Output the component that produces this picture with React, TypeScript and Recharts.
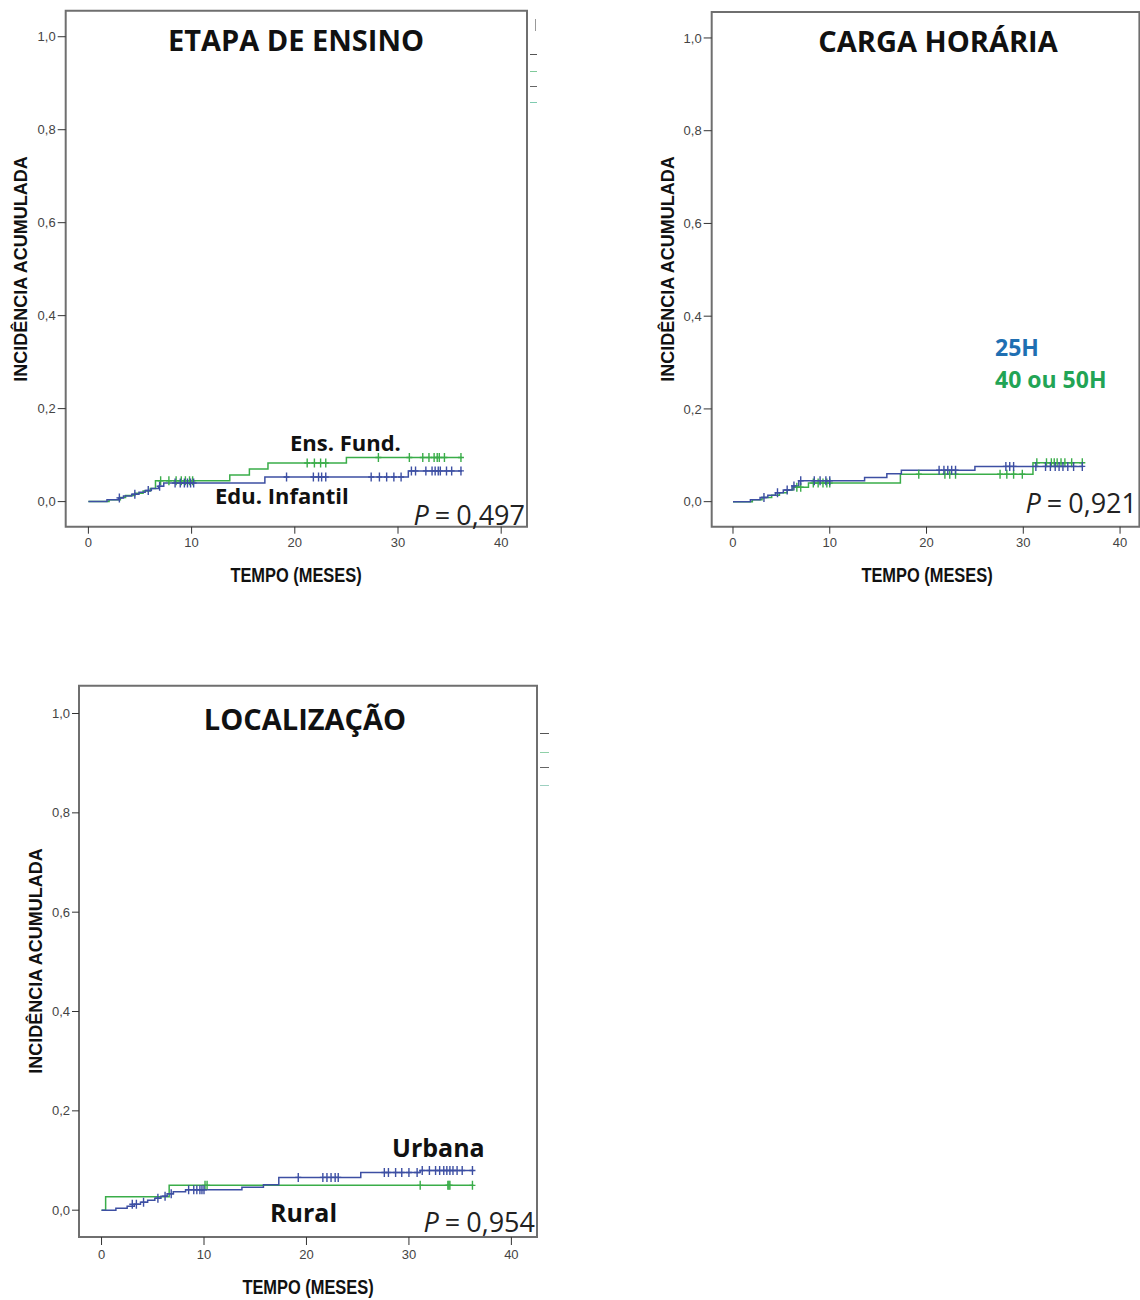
import React from "react";
import { ComposedChart, Line, ReferenceArea, Scatter, XAxis, YAxis } from "recharts";

// axis ticks shared by the three panels
const xTicks = [0, 10, 20, 30, 40];
const yTicks = [0, 0.2, 0.4, 0.6, 0.8, 1.0];

// ETAPA DE ENSINO: [months, cumulative incidence]
const eduInfantilSteps = [
  [0, 0], [1.8, 0.004], [2.9, 0.008], [3.4, 0.012], [4.2, 0.016], [4.9, 0.02], [5.5, 0.024],
  [6.1, 0.028], [6.8, 0.033], [7.3, 0.04], [17.1, 0.053], [31.0, 0.066], [36.2, 0.066]
];
const eduInfantilCensored = [
  [3.0, 0.008], [4.5, 0.016], [5.8, 0.024], [6.9, 0.033], [8.4, 0.04], [8.9, 0.04], [9.3, 0.04],
  [9.6, 0.04], [9.9, 0.04], [10.2, 0.04], [19.2, 0.053], [21.8, 0.053], [22.3, 0.053], [22.6, 0.053],
  [23.0, 0.053], [27.4, 0.053], [28.2, 0.053], [28.9, 0.053], [29.6, 0.053], [30.3, 0.053],
  [31.3, 0.066], [31.7, 0.066], [32.7, 0.066], [33.3, 0.066], [33.6, 0.066], [33.9, 0.066],
  [34.1, 0.066], [34.7, 0.066], [35.2, 0.066], [36.1, 0.066]
];
const ensFundSteps = [
  [0, 0], [2.0, 0.004], [3.1, 0.009], [3.6, 0.013], [4.5, 0.018], [5.3, 0.023], [6.0, 0.028],
  [6.5, 0.045], [13.7, 0.057], [15.6, 0.07], [17.4, 0.083], [25.0, 0.095], [36.2, 0.095]
];
const ensFundCensored = [
  [7.0, 0.045], [7.8, 0.045], [8.5, 0.045], [9.0, 0.045], [9.4, 0.045], [9.8, 0.045], [10.1, 0.045],
  [21.2, 0.083], [21.9, 0.083], [22.5, 0.083], [23.0, 0.083], [28.1, 0.095], [31.1, 0.095],
  [32.4, 0.095], [33.0, 0.095], [33.5, 0.095], [33.8, 0.095], [34.0, 0.095], [34.5, 0.095], [36.1, 0.095]
];

// CARGA HORÁRIA
const h25Steps = [
  [0, 0], [1.8, 0.004], [2.8, 0.009], [3.6, 0.014], [4.4, 0.019], [5.2, 0.025], [6.1, 0.034],
  [6.8, 0.045], [13.6, 0.052], [15.9, 0.06], [17.4, 0.068], [25.0, 0.076], [36.2, 0.076]
];
const h25Censored = [
  [3.2, 0.009], [4.6, 0.019], [5.6, 0.025], [6.3, 0.034], [7.0, 0.045], [8.4, 0.045], [9.0, 0.045],
  [9.6, 0.045], [10.0, 0.045], [21.3, 0.068], [21.8, 0.068], [22.2, 0.068], [22.6, 0.068],
  [23.0, 0.068], [28.2, 0.076], [28.6, 0.076], [29.0, 0.076], [31.3, 0.076], [32.3, 0.076],
  [32.8, 0.076], [33.3, 0.076], [33.7, 0.076], [34.1, 0.076], [34.6, 0.076], [35.2, 0.076], [36.1, 0.076]
];
const h40Steps = [
  [0, 0], [2.0, 0.004], [3.0, 0.009], [4.0, 0.014], [4.8, 0.019], [5.6, 0.025], [6.2, 0.031],
  [7.8, 0.04], [17.3, 0.059], [31.0, 0.084], [36.2, 0.084]
];
const h40Censored = [
  [6.6, 0.031], [7.0, 0.031], [8.3, 0.04], [8.8, 0.04], [9.3, 0.04], [9.7, 0.04], [10.0, 0.04],
  [19.2, 0.059], [21.9, 0.059], [22.4, 0.059], [23.0, 0.059], [27.6, 0.059], [28.3, 0.059],
  [29.0, 0.059], [29.9, 0.059], [31.4, 0.084], [32.4, 0.084], [32.9, 0.084], [33.2, 0.084],
  [33.5, 0.084], [33.9, 0.084], [34.3, 0.084], [35.0, 0.084], [36.1, 0.084]
];

// LOCALIZAÇÃO
const urbanaSteps = [
  [0, 0], [1.4, 0.004], [2.5, 0.008], [3.2, 0.012], [3.8, 0.016], [4.5, 0.02], [5.2, 0.024],
  [5.8, 0.028], [6.4, 0.033], [7.0, 0.037], [8.2, 0.041], [13.7, 0.046], [15.8, 0.051],
  [17.3, 0.066], [25.3, 0.076], [31.1, 0.08], [36.3, 0.08]
];
const urbanaCensored = [
  [3.0, 0.012], [3.4, 0.012], [4.1, 0.016], [5.5, 0.024], [6.2, 0.028], [6.8, 0.033], [8.5, 0.041],
  [9.0, 0.041], [9.3, 0.041], [9.6, 0.041], [9.8, 0.041], [10.0, 0.041], [19.2, 0.066], [21.6, 0.066],
  [22.0, 0.066], [22.4, 0.066], [22.8, 0.066], [23.1, 0.066], [27.6, 0.076], [28.0, 0.076],
  [28.7, 0.076], [29.3, 0.076], [30.0, 0.076], [30.8, 0.076], [31.3, 0.08], [32.0, 0.08],
  [32.6, 0.08], [33.0, 0.08], [33.4, 0.08], [33.7, 0.08], [34.0, 0.08], [34.3, 0.08], [34.7, 0.08],
  [35.2, 0.08], [36.2, 0.08]
];
const ruralSteps = [[0, 0], [0.4, 0.027], [6.6, 0.05], [36.3, 0.05]];
const ruralCensored = [[10.1, 0.05], [10.3, 0.05], [31.1, 0.05], [33.8, 0.05], [33.9, 0.05], [34.0, 0.05], [36.2, 0.05]];

const BLUE = "#3d4fa3";
const GREEN = "#3aad49";
const FRAME = "#6f6f6f";
const ARIAL = "'Liberation Sans', Arial, sans-serif";
const CALIBRI = "'Open Sans', 'Noto Sans', sans-serif";

const Y_MIN = -0.054;
const Y_MAX = 1.056;
const X_MIN = -2.2;

const toPoints = (rows: number[][]) => rows.map(([t, v]) => ({ t, v }));
const formatComma = (v: number) => v.toFixed(1).replace(".", ",");

function CensorMark(props: any) {
  const { cx, cy, color } = props;
  if (cx == null || cy == null) return null;
  return (
    <path
      d={`M${cx - 3},${cy}H${cx + 3}M${cx},${cy - 4.5}V${cy + 4.5}`}
      stroke={color}
      strokeWidth={1.4}
      fill="none"
    />
  );
}

interface PanelProps {
  left: number;
  top: number;
  width: number;
  height: number;
  marginTop: number;
  marginRight: number;
  yAxisWidth: number;
  xAxisHeight: number;
  xMax: number;
  xTickSize: number;
  xTickMargin: number;
  yTickSize: number;
  blueSteps: number[][];
  blueCensored: number[][];
  greenSteps: number[][];
  greenCensored: number[][];
}

function KmPanel(p: PanelProps) {
  return (
    <div style={{ position: "absolute", left: p.left, top: p.top }}>
      <ComposedChart
        width={p.width}
        height={p.height}
        margin={{ top: p.marginTop, right: p.marginRight, bottom: 0, left: 0 }}
      >
        <XAxis
          dataKey="t"
          type="number"
          domain={[X_MIN, p.xMax]}
          allowDataOverflow
          ticks={xTicks}
          axisLine={false}
          tickLine={{ stroke: "#333" }}
          tickSize={p.xTickSize}
          tickMargin={p.xTickMargin}
          height={p.xAxisHeight}
          tick={{ fontSize: 13, fill: "#444", fontFamily: ARIAL }}
        />
        <YAxis
          dataKey="v"
          type="number"
          domain={[Y_MIN, Y_MAX]}
          allowDataOverflow
          ticks={yTicks}
          tickFormatter={formatComma}
          axisLine={false}
          tickLine={{ stroke: "#333" }}
          tickSize={p.yTickSize}
          tickMargin={2}
          width={p.yAxisWidth}
          tick={{ fontSize: 13, fill: "#444", fontFamily: ARIAL }}
        />
        <ReferenceArea
          x1={X_MIN}
          x2={p.xMax}
          y1={Y_MIN}
          y2={Y_MAX}
          fill="none"
          fillOpacity={0}
          stroke={FRAME}
          strokeWidth={2}
        />
        <Line
          data={toPoints(p.greenSteps)}
          dataKey="v"
          type="stepAfter"
          stroke={GREEN}
          strokeWidth={1.5}
          dot={false}
          isAnimationActive={false}
        />
        <Line
          data={toPoints(p.blueSteps)}
          dataKey="v"
          type="stepAfter"
          stroke={BLUE}
          strokeWidth={1.5}
          dot={false}
          isAnimationActive={false}
        />
        <Scatter
          data={toPoints(p.greenCensored)}
          dataKey="v"
          isAnimationActive={false}
          shape={(s: any) => <CensorMark {...s} color={GREEN} />}
        />
        <Scatter
          data={toPoints(p.blueCensored)}
          dataKey="v"
          isAnimationActive={false}
          shape={(s: any) => <CensorMark {...s} color={BLUE} />}
        />
      </ComposedChart>
    </div>
  );
}

function Txt({
  x,
  y,
  children,
  size,
  family = CALIBRI,
  weight = 700,
  color = "#111",
  align = "center",
  rotate = false,
  squeeze = 1
}: {
  x: number;
  y: number;
  children: React.ReactNode;
  size: number;
  family?: string;
  weight?: number;
  color?: string;
  align?: "center" | "left" | "right";
  rotate?: boolean;
  squeeze?: number;
}) {
  const tx = align === "center" ? "-50%" : align === "right" ? "-100%" : "0";
  const extra = rotate ? " rotate(-90deg)" : squeeze !== 1 ? ` scaleX(${squeeze})` : "";
  return (
    <div
      style={{
        position: "absolute",
        left: x,
        top: y,
        transform: `translate(${tx}, -50%)${extra}`,
        transformOrigin: "50% 50%",
        fontFamily: family,
        fontSize: size,
        fontWeight: weight,
        color,
        lineHeight: 1,
        whiteSpace: "nowrap"
      }}
    >
      {children}
    </div>
  );
}

function PValue({ x, y, value }: { x: number; y: number; value: string }) {
  return (
    <Txt x={x} y={y} size={27} weight={400} color="#222" align="right">
      <i>P</i>
      <span style={{ margin: "0 6px" }}>=</span>
      {value}
    </Txt>
  );
}

function Stub({ x, y, w, color }: { x: number; y: number; w: number; color: string }) {
  return <div style={{ position: "absolute", left: x, top: y, width: w, height: 1, background: color }} />;
}

export default function App() {
  return (
    <div
      style={{
        position: "absolute",
        left: 0,
        top: 0,
        width: 1140,
        height: 1300,
        background: "#fff",
        overflow: "hidden"
      }}
    >
      <KmPanel
        left={0}
        top={0}
        width={560}
        height={600}
        marginTop={10.7}
        marginRight={33}
        yAxisWidth={65.7}
        xAxisHeight={73.3}
        xMax={42.5}
        xTickSize={7}
        xTickMargin={4}
        yTickSize={8}
        blueSteps={eduInfantilSteps}
        blueCensored={eduInfantilCensored}
        greenSteps={ensFundSteps}
        greenCensored={ensFundCensored}
      />
      <KmPanel
        left={640}
        top={0}
        width={500}
        height={600}
        marginTop={12}
        marginRight={0.6}
        yAxisWidth={71.7}
        xAxisHeight={73.3}
        xMax={42}
        xTickSize={7}
        xTickMargin={4}
        yTickSize={8}
        blueSteps={h25Steps}
        blueCensored={h25Censored}
        greenSteps={h40Steps}
        greenCensored={h40Censored}
      />
      <KmPanel
        left={0}
        top={660}
        width={560}
        height={640}
        marginTop={25.7}
        marginRight={23}
        yAxisWidth={79}
        xAxisHeight={63}
        xMax={42.5}
        xTickSize={8}
        xTickMargin={5}
        yTickSize={7}
        blueSteps={urbanaSteps}
        blueCensored={urbanaCensored}
        greenSteps={ruralSteps}
        greenCensored={ruralCensored}
      />

      {/* panel 1 texts */}
      <Txt x={296} y={39} size={29}>ETAPA DE ENSINO</Txt>
      <Txt x={290} y={442} size={22} align="left">Ens. Fund.</Txt>
      <Txt x={215} y={495} size={22} align="left">Edu. Infantil</Txt>
      <PValue x={525} y={514} value="0,497" />
      <Txt x={21} y={269} size={18} family={ARIAL} rotate>INCIDÊNCIA ACUMULADA</Txt>
      <Txt x={296} y={575} size={20} family={ARIAL} squeeze={0.82}>TEMPO (MESES)</Txt>
      <Stub x={530} y={54} w={7} color="#555" />
      <Stub x={530} y={71} w={7} color="#7fc99a" />
      <Stub x={530} y={86} w={7} color="#666" />
      <Stub x={530} y={102} w={7} color="#7fcbb0" />
      <div style={{ position: "absolute", left: 535, top: 19, width: 1, height: 12, background: "#999" }} />

      {/* panel 2 texts */}
      <Txt x={938} y={40} size={29}>CARGA HORÁRIA</Txt>
      <Txt x={995} y={347} size={23} color="#1f6fb2" align="left">25H</Txt>
      <Txt x={995} y={379} size={23} color="#22a455" align="left">40 ou 50H</Txt>
      <PValue x={1137} y={502} value="0,921" />
      <Txt x={668} y={269} size={18} family={ARIAL} rotate>INCIDÊNCIA ACUMULADA</Txt>
      <Txt x={927} y={575} size={20} family={ARIAL} squeeze={0.82}>TEMPO (MESES)</Txt>

      {/* panel 3 texts */}
      <Txt x={305} y={718} size={29}>LOCALIZAÇÃO</Txt>
      <Txt x={392} y={1147} size={25} align="left">Urbana</Txt>
      <Txt x={270} y={1212} size={25} align="left">Rural</Txt>
      <PValue x={535} y={1221} value="0,954" />
      <Txt x={36} y={961} size={18} family={ARIAL} rotate>INCIDÊNCIA ACUMULADA</Txt>
      <Txt x={308} y={1287} size={20} family={ARIAL} squeeze={0.82}>TEMPO (MESES)</Txt>
      <Stub x={540} y={733} w={9} color="#555" />
      <Stub x={540} y={752} w={9} color="#8fd0a8" />
      <Stub x={540} y={767} w={9} color="#666" />
      <Stub x={540} y={785} w={9} color="#9dd0c0" />
    </div>
  );
}
